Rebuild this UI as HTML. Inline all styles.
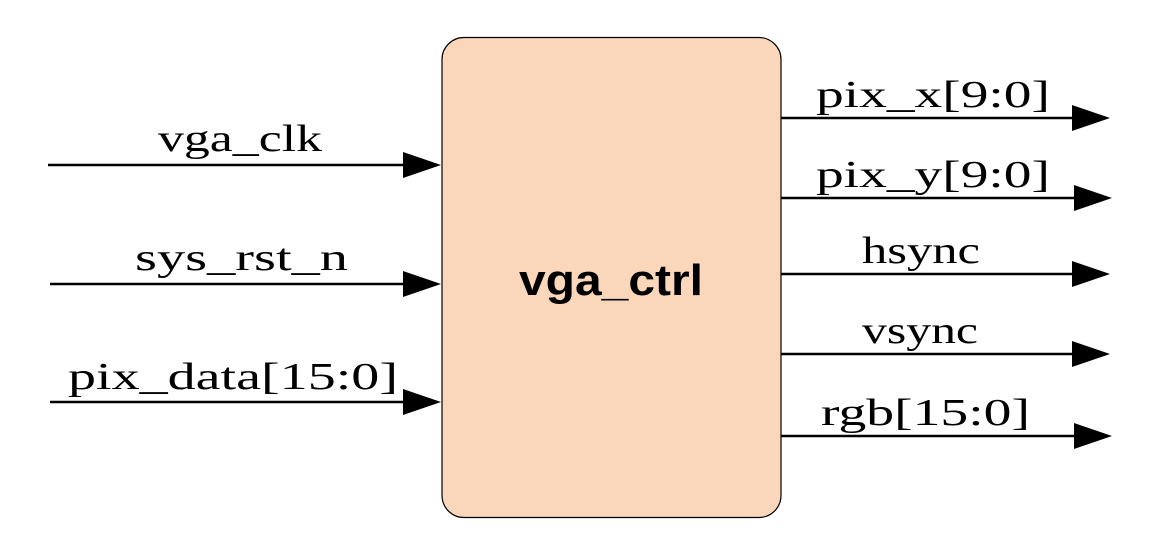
<!DOCTYPE html>
<html><head><meta charset="utf-8"><style>html,body{margin:0;padding:0;background:#fff}</style></head>
<body>
<svg width="1166" height="554" viewBox="0 0 1166 554" xmlns="http://www.w3.org/2000/svg">
<rect x="442" y="37.5" width="339" height="480" rx="22" ry="22" fill="#FAD7BA" stroke="#000" stroke-width="1.2"/>
<text x="611" y="295" text-anchor="middle" font-family="Liberation Sans, sans-serif" font-weight="bold" font-size="44" textLength="184" lengthAdjust="spacingAndGlyphs">vga_ctrl</text>
<g stroke="#000" stroke-width="2.5">
<line x1="48" y1="165" x2="410" y2="165"/>
<line x1="50" y1="284" x2="410" y2="284"/>
<line x1="50" y1="402" x2="410" y2="402"/>
<line x1="781" y1="118" x2="1080" y2="118"/>
<line x1="781" y1="198" x2="1080" y2="198"/>
<line x1="781" y1="274" x2="1080" y2="274"/>
<line x1="781" y1="354" x2="1080" y2="354"/>
<line x1="781" y1="436" x2="1080" y2="436"/>
</g>
<g fill="#000">
<polygon points="403,152 441,165 403,178"/>
<polygon points="403,271 441,284 403,297"/>
<polygon points="403,389 441,402 403,415"/>
<polygon points="1072,105 1110,118 1072,131"/>
<polygon points="1074,185 1112,198 1074,211"/>
<polygon points="1072,261 1110,274 1072,287"/>
<polygon points="1072,341 1110,354 1072,367"/>
<polygon points="1074,423 1112,436 1074,449"/>
</g>
<g font-family="Liberation Serif, serif" font-size="38" fill="#000">
<text x="158" y="151" textLength="164" lengthAdjust="spacingAndGlyphs">vga_clk</text>
<text x="135" y="270" textLength="213" lengthAdjust="spacingAndGlyphs">sys_rst_n</text>
<text x="68" y="389" textLength="330" lengthAdjust="spacingAndGlyphs">pix_data[15:0]</text>
<text x="816" y="107" textLength="234" lengthAdjust="spacingAndGlyphs">pix_x[9:0]</text>
<text x="816" y="187" textLength="234" lengthAdjust="spacingAndGlyphs">pix_y[9:0]</text>
<text x="862" y="263" textLength="118" lengthAdjust="spacingAndGlyphs">hsync</text>
<text x="862" y="343" textLength="116" lengthAdjust="spacingAndGlyphs">vsync</text>
<text x="821" y="425" textLength="209" lengthAdjust="spacingAndGlyphs">rgb[15:0]</text>
</g>
</svg>
</body></html>
